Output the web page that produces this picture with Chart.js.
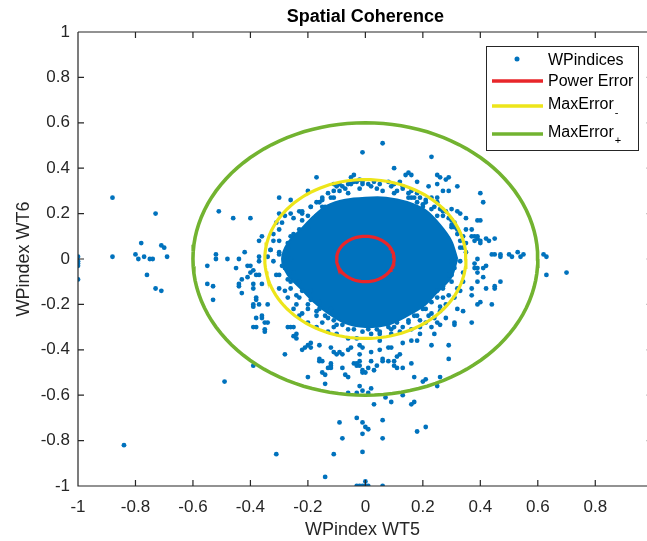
<!DOCTYPE html>
<html>
<head>
<meta charset="utf-8">
<script src="https://cdn.jsdelivr.net/npm/chart.js@4.4.1/dist/chart.umd.min.js"></script>
<style>
  html, body { margin: 0; padding: 0; background: #fff; }
  canvas { display: block; }
</style>
</head>
<body>
<canvas id="chart" width="647" height="541"></canvas>
<script>
// ---- data ----
const xTicks = [-1, -0.8, -0.6, -0.4, -0.2, 0, 0.2, 0.4, 0.6, 0.8];
const yTicks = [-1, -0.8, -0.6, -0.4, -0.2, 0, 0.2, 0.4, 0.6, 0.8, 1];

const errorNames = ["Power Error", "MaxError", "MaxError"];
const errorSubs = ["", "-", "+"];
const errorRadii = [0.1, 0.35, 0.6];

// outline of the saturated core of the cloud
const corePolygon = [
  [0.32, 0], [0.299, 0.08], [0.26, 0.15], [0.212, 0.212], [0.145, 0.251], [0.072, 0.27],
  [0, 0.27], [-0.07, 0.261], [-0.135, 0.234], [-0.184, 0.184], [-0.225, 0.13], [-0.27, 0.07],
  [-0.29, 0], [-0.27, -0.07], [-0.225, -0.13], [-0.184, -0.184], [-0.135, -0.234], [-0.075, -0.28],
  [0, -0.3], [0.078, -0.29], [0.145, -0.251], [0.205, -0.205], [0.251, -0.145], [0.299, -0.08]
];

const farPoints = [
  [-0.88, 0.27], [-0.73, 0.2], [-0.78, 0.07], [-0.71, 0.06], [-0.7, 0.05], [-0.88, 0.01], [-0.8, 0.02],
  [-0.79, 0.0], [-0.77, 0.01], [-0.75, 0.0], [-0.74, 0.0], [-0.69, 0.01], [-1.0, 0.01], [-1.0, -0.01],
  [-1.0, -0.02], [-1.0, -0.03], [-1.0, -0.09], [-0.76, -0.07], [-0.73, -0.13], [-0.71, -0.14],
  [-0.84, -0.82], [-0.49, -0.54], [-0.31, -0.86], [-0.14, -0.96], [-0.11, -0.86], [-0.09, -0.72],
  [-0.08, -0.79], [-0.03, -0.7], [-0.01, -0.72], [0.0, -0.74], [0.01, -0.75], [-0.01, -0.77],
  [-0.01, -0.85], [0.06, -0.71], [0.06, -0.79], [0.03, -0.64], [0.16, -0.64], [0.17, -0.63],
  [0.18, -0.76], [0.21, -0.74], [0.0, -0.98], [0.06, -1.0], [-0.03, -1.0], [-0.02, -1.0],
  [-0.01, -1.0], [0.0, -1.0], [0.01, -1.0], [0.63, 0.01], [0.63, -0.07], [0.7, -0.06], [0.62, 0.02],
  [0.13, -0.6], [0.09, -0.63], [0.07, -0.61]
];

const ringPoints = [
  [-0.51, 0.21], [-0.46, 0.18], [-0.4, 0.18], [-0.52, 0.02], [-0.52, 0.0], [-0.48, 0.0], [-0.55, -0.03],
  [-0.44, 0.0], [-0.42, 0.03], [-0.45, -0.04], [-0.4, -0.03], [-0.55, -0.11], [-0.53, -0.12],
  [-0.53, -0.18], [-0.44, -0.11], [-0.43, -0.15], [-0.41, -0.08], [-0.39, -0.2], [-0.38, -0.26],
  [-0.39, -0.3], [-0.36, -0.26], [-0.35, -0.31], [-0.35, -0.28], [-0.34, -0.2], [-0.39, -0.47],
  [-0.28, -0.42], [-0.27, -0.3], [-0.25, -0.3], [-0.24, -0.35], [-0.22, -0.4], [-0.2, -0.38],
  [-0.19, -0.39], [-0.2, -0.52], [-0.16, -0.44], [-0.15, -0.45], [-0.14, -0.51], [-0.14, -0.55],
  [-0.44, -0.12], [-0.39, -0.11], [-0.39, -0.13], [-0.36, -0.11], [-0.38, -0.17], [-0.38, -0.18],
  [-0.39, -0.21], [-0.36, -0.25], [-0.41, -0.03], [-0.39, -0.05], [-0.38, -0.07], [-0.37, -0.07],
  [-0.37, 0.08], [-0.36, 0.1], [-0.37, 0.01], [-0.37, -0.01], [-0.43, -0.09], [-0.4, -0.06],
  [-0.35, -0.32], [-0.38, -0.3], [-0.34, -0.28], [-0.26, -0.3], [-0.24, -0.33], [-0.25, -0.34],
  [-0.19, -0.37], [-0.16, -0.38], [-0.12, -0.39], [-0.09, -0.41], [-0.05, -0.39], [-0.21, -0.39],
  [-0.12, -0.47], [-0.08, -0.48], [-0.03, -0.47], [-0.1, -0.42], [-0.02, -0.42], [-0.01, -0.39],
  [-0.37, -0.2],
  [-0.01, 0.47], [0.06, 0.51], [0.23, 0.45], [0.1, 0.4], [0.14, 0.37], [0.15, 0.38], [0.16, 0.37],
  [0.18, 0.34], [0.22, 0.32], [0.25, 0.37], [0.26, 0.36], [0.28, 0.35], [0.29, 0.36], [0.25, 0.33],
  [0.29, 0.3], [0.32, 0.32], [0.25, 0.27], [0.27, 0.3], [-0.17, 0.36], [-0.04, 0.37], [-0.05, 0.36],
  [-0.3, 0.27], [-0.26, 0.26], [-0.2, 0.3], [-0.3, 0.2],
  [0.4, 0.29], [0.41, 0.25], [0.4, 0.17], [0.33, 0.2], [0.3, 0.22], [0.35, 0.18], [0.35, 0.13],
  [0.37, 0.1], [0.39, 0.09], [0.4, 0.08], [0.42, 0.09], [0.45, 0.09], [0.38, 0.1], [0.39, 0.1],
  [0.44, 0.02], [0.45, 0.02], [0.47, 0.02], [0.5, 0.02], [0.51, 0.01], [0.53, 0.03], [0.55, 0.02],
  [0.47, 0.01], [0.54, 0.01], [0.38, -0.02], [0.39, -0.04], [0.41, -0.04], [0.41, -0.08], [0.47, -0.1],
  [0.37, -0.13], [0.42, -0.13], [0.45, -0.12], [0.39, -0.06], [0.45, -0.13], [0.4, -0.19], [0.44, -0.2],
  [0.37, -0.28], [0.31, -0.29], [0.29, -0.38], [0.29, -0.44], [0.26, -0.52], [0.25, -0.56], [0.21, -0.53],
  [0.17, -0.52], [0.2, -0.54], [0.37, 0.13], [0.39, 0.17], [0.32, 0.21], [0.38, 0.08], [0.4, 0.07],
  [0.43, 0.08], [0.38, -0.04], [0.39, -0.1], [0.37, -0.16], [0.34, -0.23], [0.31, -0.28], [0.39, -0.2],
  [0.42, -0.03], [0.39, 0.0],
  [-0.11, -0.41], [-0.08, -0.42], [-0.06, -0.4], [-0.04, -0.46], [-0.02, -0.47], [0.01, -0.48],
  [0.02, -0.45], [0.05, -0.4], [0.06, -0.44], [0.08, -0.39], [0.1, -0.47], [0.11, -0.43], [0.13, -0.48],
  [0.13, -0.37], [-0.13, -0.48], [-0.07, -0.51], [-0.02, -0.56], [0.02, -0.57], [0.18, -0.36],
  [0.19, -0.33], [0.23, -0.3], [0.25, -0.28], [-0.06, -0.59], [-0.03, -0.59], [-0.01, -0.58],
  [0.01, -0.59], [-0.12, -0.46], [-0.12, -0.48], [-0.15, -0.5], [-0.06, -0.52], [-0.03, -0.46],
  [-0.02, -0.45], [-0.01, -0.5], [0.0, -0.5], [0.03, -0.49], [0.04, -0.47], [0.06, -0.45], [0.08, -0.45],
  [0.11, -0.48], [0.16, -0.46], [-0.02, -0.38], [0.02, -0.41], [0.05, -0.36], [0.09, -0.39],
  [0.12, -0.42], [0.1, -0.45], [0.16, -0.36], [0.24, -0.33], [0.23, -0.38], [-0.01, -0.49], [-0.16, -0.45]
];

const fringePoints = [
  [-0.31, 0.16], [-0.3, 0.13], [-0.32, 0.08], [-0.28, 0.19], [-0.26, 0.2], [-0.23, 0.21], [-0.22, 0.17],
  [-0.19, 0.23], [-0.2, 0.19], [-0.17, 0.25], [-0.13, 0.29], [-0.12, 0.27], [-0.1, 0.32], [-0.09, 0.3],
  [-0.06, 0.33], [-0.04, 0.34], [-0.02, 0.35], [-0.01, 0.34], [-0.15, 0.23], [-0.25, 0.11], [-0.27, 0.07],
  [-0.33, 0.04], [-0.34, 0.01], [-0.3, 0.03], [-0.22, 0.2], [-0.16, 0.25], [-0.15, 0.26], [-0.11, 0.33],
  [-0.09, 0.33], [-0.07, 0.31],
  [0.01, 0.33], [0.03, 0.34], [0.05, 0.33], [0.08, 0.34], [0.1, 0.33], [0.12, 0.34], [0.13, 0.31],
  [0.16, 0.3], [0.18, 0.29], [0.19, 0.27], [0.21, 0.26], [0.23, 0.27], [0.25, 0.25], [0.24, 0.23],
  [0.26, 0.22], [0.28, 0.21], [0.27, 0.19], [0.3, 0.17], [0.3, 0.15], [0.31, 0.14], [0.32, 0.11],
  [0.33, 0.08], [0.34, 0.05], [0.35, 0.03], [0.18, 0.25], [0.2, 0.23], [0.15, 0.27], [0.1, 0.29],
  [0.33, -0.01], [0.34, -0.06], [0.34, -0.1], [0.33, -0.14], [0.31, -0.17], [0.28, -0.2], [0.26, -0.23],
  [0.24, -0.26], [0.21, -0.28], [0.19, -0.3], [0.16, -0.31], [0.12, -0.32], [0.09, -0.33], [0.05, -0.33],
  [0.02, -0.33], [0.27, -0.13], [0.3, -0.07], [0.25, -0.17], [0.21, -0.22], [0.18, -0.25], [0.15, -0.28],
  [0.1, -0.3], [0.32, -0.22], [0.28, -0.26], [0.26, -0.29],
  [-0.32, -0.01], [-0.31, -0.07], [-0.3, -0.13], [-0.27, -0.17], [-0.25, -0.22], [-0.23, -0.25],
  [-0.2, -0.28], [-0.17, -0.3], [-0.13, -0.32], [-0.1, -0.33], [-0.06, -0.35], [-0.03, -0.35],
  [-0.26, -0.1], [-0.24, -0.16], [-0.2, -0.2], [-0.17, -0.23], [-0.13, -0.26], [-0.1, -0.29],
  [-0.06, -0.31], [-0.28, -0.04], [-0.19, -0.14], [-0.16, -0.19], [-0.12, -0.22],
  // edge of the saturated core
  [-0.29, 0.16], [-0.25, 0.18], [-0.22, 0.21], [-0.19, 0.23], [-0.15, 0.27], [-0.11, 0.3], [-0.08, 0.32],
  [-0.05, 0.33], [-0.03, 0.34], [-0.32, 0.11], [-0.3, 0.08], [-0.27, 0.05], [-0.26, 0.1], [-0.23, 0.13],
  [-0.2, 0.14], [-0.17, 0.19], [-0.14, 0.23], [-0.11, 0.27], [-0.06, 0.29], [-0.02, 0.31], [-0.33, 0.04],
  [-0.3, 0.02],
  [0.02, 0.32], [0.06, 0.3], [0.11, 0.3], [0.15, 0.29], [0.17, 0.27], [0.21, 0.25], [0.23, 0.22],
  [0.27, 0.21], [0.29, 0.18], [0.31, 0.16], [0.32, 0.13], [0.34, 0.1], [0.35, 0.07], [0.04, 0.31],
  [0.09, 0.32], [0.13, 0.32], [0.16, 0.27], [0.2, 0.24], [0.25, 0.19], [0.3, 0.14], [0.33, 0.05],
  [-0.01, 0.33],
  [0.3, -0.01], [0.29, -0.07], [0.27, -0.12], [0.25, -0.14], [0.23, -0.19], [0.2, -0.22], [0.17, -0.25],
  [0.15, -0.27], [0.11, -0.28], [0.08, -0.3], [0.04, -0.31], [0.01, -0.31], [0.31, -0.04], [0.3, -0.1],
  [0.27, -0.17], [0.23, -0.24], [0.19, -0.27], [0.13, -0.3], [0.09, -0.31], [0.05, -0.32], [0.32, -0.13],
  [0.29, -0.16], [0.26, -0.21], [0.22, -0.25],
  [-0.26, 0.0], [-0.25, -0.06], [-0.23, -0.1], [-0.22, -0.14], [-0.19, -0.18], [-0.16, -0.22],
  [-0.14, -0.25], [-0.11, -0.27], [-0.08, -0.29], [-0.04, -0.31], [-0.01, -0.32], [-0.29, -0.03],
  [-0.27, -0.09], [-0.26, -0.13], [-0.23, -0.17], [-0.2, -0.22], [-0.17, -0.25], [-0.15, -0.28],
  [-0.11, -0.3], [-0.3, -0.07], [-0.28, -0.14], [-0.24, -0.2], [-0.22, -0.24]
];

const POINT_COLOR = "#0072BD";
const CIRCLE_COLORS = ["#E8262A", "#EDE51A", "#72B330"];
const AXIS_COLOR = "#262626";
const FONT = "'Liberation Sans', Arial, Helvetica, sans-serif";

function circle(r) {
  const pts = [];
  for (let i = 0; i <= 120; i++) {
    const a = (i / 120) * Math.PI * 2;
    pts.push({ x: r * Math.cos(a), y: r * Math.sin(a) });
  }
  return pts;
}

const toXY = list => list.map(([x, y]) => ({ x, y }));

// axes box with inward ticks, title and legend (MATLAB look)
const frame = {
  id: "frame",
  afterDraw(chart) {
    const { ctx, chartArea: a, scales: { x, y } } = chart;
    ctx.save();
    ctx.strokeStyle = AXIS_COLOR;
    ctx.lineWidth = 1.2;
    ctx.beginPath();
    ctx.moveTo(a.left, a.top); ctx.lineTo(a.right, a.top);
    ctx.moveTo(a.left, a.top); ctx.lineTo(a.left, a.bottom); ctx.lineTo(a.right, a.bottom);
    xTicks.forEach(v => {
      const px = x.getPixelForValue(v);
      ctx.moveTo(px, a.bottom); ctx.lineTo(px, a.bottom - 6);
      ctx.moveTo(px, a.top); ctx.lineTo(px, a.top + 6);
    });
    const rx = x.getPixelForValue(1);
    yTicks.forEach(v => {
      const py = y.getPixelForValue(v);
      ctx.moveTo(a.left, py); ctx.lineTo(a.left + 6, py);
      ctx.moveTo(rx, py); ctx.lineTo(rx - 6, py);
    });
    ctx.stroke();

    ctx.fillStyle = "#000";
    ctx.font = `bold 18px ${FONT}`;
    ctx.textAlign = "center";
    ctx.textBaseline = "middle";
    ctx.fillText("Spatial Coherence", x.getPixelForValue(0), 17);

    const L = { left: 486.5, top: 46.5, w: 152, h: 104 };
    ctx.fillStyle = "#fff";
    ctx.fillRect(L.left, L.top, L.w, L.h);
    ctx.strokeStyle = AXIS_COLOR;
    ctx.lineWidth = 1;
    ctx.strokeRect(L.left, L.top, L.w, L.h);
    ctx.font = `16px ${FONT}`;
    ctx.textAlign = "left";
    const textX = 548;
    ctx.beginPath();
    ctx.fillStyle = POINT_COLOR;
    ctx.arc(517, 59, 2.5, 0, Math.PI * 2);
    ctx.fill();
    ctx.fillStyle = "#000";
    ctx.fillText("WPindices", textX, 61);
    const rows = [81, 106, 134];
    errorNames.forEach((name, i) => {
      const ly = rows[i];
      ctx.strokeStyle = CIRCLE_COLORS[i];
      ctx.lineWidth = 3.3;
      ctx.beginPath();
      ctx.moveTo(492, ly); ctx.lineTo(543, ly);
      ctx.stroke();
      ctx.font = `16px ${FONT}`;
      const ty = i === 0 ? 82 : ly - 1;
      ctx.fillText(name, textX, ty);
      if (errorSubs[i]) {
        const w = ctx.measureText(name).width;
        ctx.font = `11px ${FONT}`;
        ctx.fillText(errorSubs[i], textX + w + 1, ty + 8);
      }
    });
    ctx.restore();
  }
};

new Chart(document.getElementById("chart"), {
  type: "scatter",
  data: {
    datasets: [
      ...errorRadii.map((r, i) => ({
        label: errorNames[i] + errorSubs[i],
        data: circle(r),
        showLine: true,
        borderColor: CIRCLE_COLORS[i],
        borderWidth: i === 2 ? 3.6 : 3.2,
        pointRadius: 0,
        fill: false,
        order: 0
      })),
      {
        label: "WPindices",
        data: toXY([...farPoints, ...ringPoints, ...fringePoints]),
        backgroundColor: POINT_COLOR,
        borderWidth: 0,
        pointRadius: 2.4,
        order: 1
      },
      {
        label: "core",
        data: toXY([...corePolygon, corePolygon[0]]),
        showLine: true,
        fill: "shape",
        tension: 0.3,
        backgroundColor: POINT_COLOR,
        borderColor: POINT_COLOR,
        borderWidth: 2,
        pointRadius: 0,
        order: 2
      }
    ]
  },
  options: {
    responsive: false,
    animation: false,
    devicePixelRatio: 1,
    layout: { autoPadding: false, padding: { top: 32, right: 0, bottom: 0, left: 0 } },
    plugins: {
      legend: { display: false },
      title: { display: false },
      tooltip: { enabled: false }
    },
    scales: {
      x: {
        type: "linear",
        min: -1,
        max: 0.98,
        afterFit: s => { s.height = 55; s.paddingLeft = 0; s.paddingRight = 0; },
        afterBuildTicks: s => { s.ticks = xTicks.map(v => ({ value: v })); },
        grid: { display: false, drawTicks: false },
        border: { display: false },
        ticks: { padding: 11, color: AXIS_COLOR, font: { size: 17, family: FONT }, callback: v => String(v), maxRotation: 0, autoSkip: false },
        title: { display: true, text: "WPindex WT5", color: AXIS_COLOR, font: { size: 18, family: FONT }, padding: { top: 0, bottom: 0 } }
      },
      y: {
        type: "linear",
        min: -1,
        max: 1,
        afterFit: s => { s.width = 78; },
        afterBuildTicks: s => { s.ticks = yTicks.map(v => ({ value: v })); },
        grid: { display: false, drawTicks: false },
        border: { display: false },
        ticks: { padding: 8, color: AXIS_COLOR, font: { size: 17, family: FONT }, callback: v => String(v), autoSkip: false },
        title: { display: true, text: "WPindex WT6", color: AXIS_COLOR, font: { size: 18, family: FONT }, padding: { top: 13, bottom: 0 } }
      }
    }
  },
  plugins: [frame]
});
</script>
</body>
</html>
